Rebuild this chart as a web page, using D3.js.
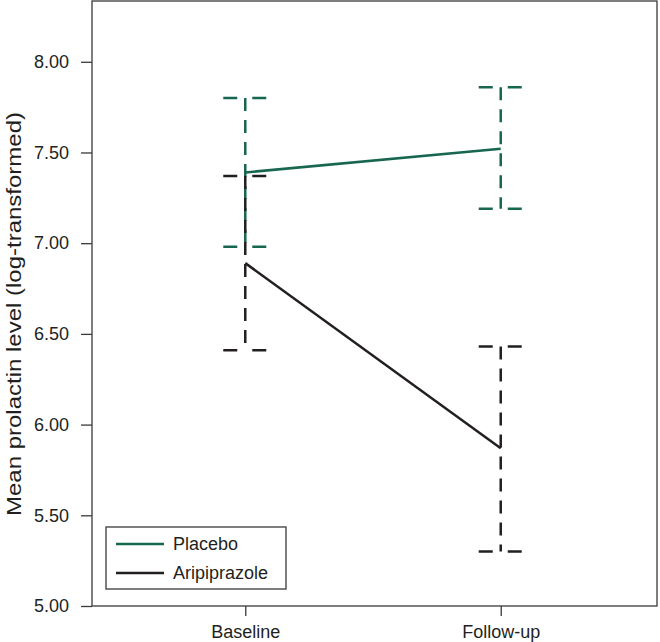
<!DOCTYPE html>
<html><head><meta charset="utf-8">
<script src="https://cdn.jsdelivr.net/npm/d3@7"></script>
<style>body{margin:0;background:#fff}svg{display:block}text{font-family:"Liberation Sans",Arial,sans-serif;fill:#231f20}</style>
</head><body><svg id="c" width="660" height="642"></svg>
<script>
const categories = ["Baseline", "Follow-up"];
const seriesNames = ["Placebo", "Aripiprazole"];
const placeboMean = [7.39, 7.52];
const placeboUpper = [7.80, 7.86];
const placeboLower = [6.98, 7.19];
const aripMean = [6.89, 5.87];
const aripUpper = [7.37, 6.43];
const aripLower = [6.41, 5.30];
const yTicks = [5.00, 5.50, 6.00, 6.50, 7.00, 7.50, 8.00];
const yLabel = "Mean prolactin level (log-transformed)";

const colors = {"Placebo": "#17664f", "Aripiprazole": "#231f20"};
const series = [
  {name: "Placebo", mean: placeboMean, up: placeboUpper, lo: placeboLower},
  {name: "Aripiprazole", mean: aripMean, up: aripUpper, lo: aripLower}
];

const svg = d3.select("#c");
const L = 92, R = 657, T = 1, B = 606;
const x = d3.scalePoint().domain(categories).range([L, R - 3]).padding(0.6);
const y = d3.scaleLinear().domain([5, 8.335]).range([B, T]);

// frame
svg.append("rect").attr("x", L).attr("y", T).attr("width", R - L).attr("height", B - T)
  .attr("fill", "none").attr("stroke", "#3a3a3a").attr("stroke-width", 1.3);

const yAxis = svg.append("g").attr("transform", `translate(${L},0)`)
  .call(d3.axisLeft(y).tickValues(yTicks).tickFormat(d3.format(".2f")).tickSize(11).tickPadding(12));
const xAxis = svg.append("g").attr("transform", `translate(0,${B})`)
  .call(d3.axisBottom(x).tickSize(10).tickPadding(9));
[yAxis, xAxis].forEach(g => {
  g.select(".domain").remove();
  g.selectAll("line").attr("stroke", "#3a3a3a").attr("stroke-width", 1.3);
  g.selectAll("text").attr("font-size", 18).attr("font-family", "Liberation Sans, Arial, sans-serif").attr("fill", "#231f20");
});

svg.append("text").attr("transform", `translate(21,314) rotate(-90)`)
  .attr("text-anchor", "middle").attr("font-size", 21)
  .attr("textLength", 404).attr("lengthAdjust", "spacingAndGlyphs").text(yLabel);

// error bars
series.forEach(s => {
  const c = colors[s.name];
  categories.forEach((cat, i) => {
    const cx = x(cat);
    const g = svg.append("g");
    g.append("line").attr("x1", cx).attr("x2", cx).attr("y1", y(s.up[i])).attr("y2", y(s.lo[i]))
      .attr("stroke", c).attr("stroke-width", 2.5).attr("stroke-dasharray", "13,9");
    [s.up[i], s.lo[i]].forEach(v => {
      g.append("line").attr("x1", cx - 22).attr("x2", cx + 21).attr("y1", y(v)).attr("y2", y(v))
        .attr("stroke", c).attr("stroke-width", 2.5).attr("stroke-dasharray", "14,15,14");
    });
  });
});

// mean lines
const line = d3.line().x((d, i) => x(categories[i])).y(d => y(d));
series.forEach(s => {
  svg.append("path").attr("d", line(s.mean)).attr("fill", "none")
    .attr("stroke", colors[s.name]).attr("stroke-width", 2.5);
});

// legend
const lg = svg.append("g");
lg.append("rect").attr("x", 106).attr("y", 527).attr("width", 180).attr("height", 62)
  .attr("fill", "#fff").attr("stroke", "#3a3a3a").attr("stroke-width", 1.3);
seriesNames.forEach((n, i) => {
  const yy = 544 + i * 29;
  lg.append("line").attr("x1", 116).attr("x2", 164).attr("y1", yy).attr("y2", yy)
    .attr("stroke", colors[n]).attr("stroke-width", 2.5);
  lg.append("text").attr("x", 173).attr("y", yy).attr("dy", "0.35em").attr("font-size", 18).text(n);
});
</script></body></html>
